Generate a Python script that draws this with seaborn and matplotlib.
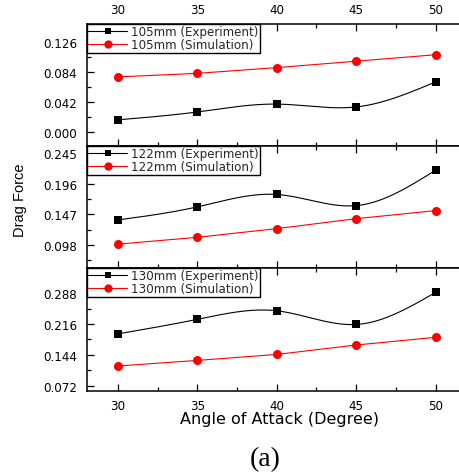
import numpy as np
import pandas as pd
import matplotlib
matplotlib.use("Agg")
import matplotlib.pyplot as plt
from matplotlib.lines import Line2D
from matplotlib.ticker import MultipleLocator, FixedLocator, FormatStrFormatter
import seaborn as sns

# Drag force vs angle of attack for three projectile sizes
angles = [30, 35, 40, 45, 50]
sizes = ["105mm", "122mm", "130mm"]
exp_105 = [0.017, 0.028, 0.039, 0.035, 0.070]
sim_105 = [0.077, 0.082, 0.090, 0.099, 0.108]
exp_122 = [0.138, 0.159, 0.179, 0.161, 0.218]
sim_122 = [0.099, 0.110, 0.124, 0.140, 0.153]
exp_130 = [0.193, 0.227, 0.247, 0.215, 0.290]
sim_130 = [0.118, 0.131, 0.145, 0.167, 0.185]
x_ticks = [30, 35, 40, 45, 50]
y_ticks = [
    [0.000, 0.042, 0.084, 0.126],
    [0.098, 0.147, 0.196, 0.245],
    [0.072, 0.144, 0.216, 0.288],
]
y_limits = [(-0.0196, 0.151), (0.0606, 0.257), (0.0595, 0.347)]

experiments = [exp_105, exp_122, exp_130]
simulations = [sim_105, sim_122, sim_130]


def natural_spline(x, y, n=200):
    """Natural cubic spline through (x, y), evaluated on a dense grid."""
    x = np.asarray(x, float)
    y = np.asarray(y, float)
    k = len(x)
    h = np.diff(x)
    A = np.zeros((k, k))
    r = np.zeros(k)
    A[0, 0] = A[-1, -1] = 1.0
    for i in range(1, k - 1):
        A[i, i - 1] = h[i - 1]
        A[i, i] = 2 * (h[i - 1] + h[i])
        A[i, i + 1] = h[i]
        r[i] = 3 * ((y[i + 1] - y[i]) / h[i] - (y[i] - y[i - 1]) / h[i - 1])
    c = np.linalg.solve(A, r)
    b = (np.diff(y) / h) - h * (2 * c[:-1] + c[1:]) / 3
    d = np.diff(c) / (3 * h)
    xs = np.linspace(x[0], x[-1], n)
    idx = np.clip(np.searchsorted(x, xs, side="right") - 1, 0, k - 2)
    t = xs - x[idx]
    ys = y[idx] + b[idx] * t + c[idx] * t ** 2 + d[idx] * t ** 3
    return xs, ys


sns.set_theme(style="white")
plt.rcParams["font.family"] = ["DejaVu Sans"]
plt.rcParams["axes.edgecolor"] = "black"
plt.rcParams["axes.linewidth"] = 1.1

W, H = 460, 477
fig = plt.figure(figsize=(W / 100, H / 100), dpi=100)

left_px, right_px = 87, 461
panel_px = [(25, 147), (147, 269), (269, 392)]
tick_fs = 8.6
legend_fs = 8.6

for i, (top, bot) in enumerate(panel_px):
    ax = fig.add_axes([left_px / W, 1 - bot / H, (right_px - left_px) / W, (bot - top) / H])
    df_exp = pd.DataFrame({"angle": angles, "force": experiments[i]})
    df_sim = pd.DataFrame({"angle": angles, "force": simulations[i]})
    xs, ys = natural_spline(angles, experiments[i])
    df_curve = pd.DataFrame({"angle": xs, "force": ys})

    # experiment: smooth spline connector plus square markers
    sns.lineplot(data=df_curve, x="angle", y="force", ax=ax, color="black",
                 lw=0.8, legend=False, zorder=2)
    sns.scatterplot(data=df_exp, x="angle", y="force", ax=ax, color="black",
                    marker="s", s=34, edgecolor="black", linewidth=0,
                    legend=False, zorder=3)
    # simulation: straight segments with round markers
    sns.lineplot(data=df_sim, x="angle", y="force", ax=ax, color="red",
                 lw=0.8, marker="o", markersize=6.5, markeredgewidth=0,
                 legend=False, zorder=3)

    ax.set_xlim(28.05, 51.6)
    ax.set_ylim(*y_limits[i])
    ax.xaxis.set_major_locator(FixedLocator(x_ticks))
    ax.xaxis.set_minor_locator(MultipleLocator(2.5))
    ax.yaxis.set_major_locator(FixedLocator(y_ticks[i]))
    step = y_ticks[i][1] - y_ticks[i][0]
    ax.yaxis.set_minor_locator(FixedLocator(
        [y_ticks[i][0] - step / 2] + [v + step / 2 for v in y_ticks[i]]))
    ax.yaxis.set_major_formatter(FormatStrFormatter("%.3f"))
    ax.set_xlabel("")
    ax.set_ylabel("")
    ax.spines["right"].set_visible(False)

    ax.tick_params(which="both", direction="in", top=True, bottom=True,
                   left=True, right=False, color="black", width=0.9,
                   labelsize=tick_fs, labelcolor="black")
    ax.tick_params(which="major", length=5, pad=7)
    ax.tick_params(which="minor", length=3)
    ax.tick_params(axis="x", labeltop=(i == 0), labelbottom=(i == 2), pad=6)

    handles = [
        Line2D([], [], color="black", lw=0.8, marker="s", markersize=5,
               markeredgewidth=0),
        Line2D([], [], color="red", lw=0.8, marker="o", markersize=6,
               markeredgewidth=0),
    ]
    labels = [f"{sizes[i]} (Experiment)", f"{sizes[i]} (Simulation)"]
    leg = ax.legend(handles, labels, loc="upper left", bbox_to_anchor=(0, 1),
                    borderaxespad=0, frameon=True, fancybox=False, framealpha=1,
                    edgecolor="black", fontsize=legend_fs, handlelength=3.2,
                    handletextpad=0.35, labelspacing=0.0, borderpad=0.12)
    leg.get_frame().set_linewidth(1.0)

fig.text(20 / W, 1 - 200 / H, "Drag Force", rotation=90, ha="center",
         va="center", fontsize=10.5, color="black",
         family=["Liberation Sans Narrow", "Liberation Sans", "DejaVu Sans"])
fig.text(279 / W, 1 - 420 / H, "Angle of Attack (Degree)", ha="center",
         va="center", fontsize=11.5, color="black")
fig.text(265 / W, 1 - 460 / H, "(a)", ha="center", va="center",
         fontsize=20, color="black", family=["Liberation Serif", "DejaVu Serif"])

fig.savefig("out.png", dpi=100, facecolor="white")
